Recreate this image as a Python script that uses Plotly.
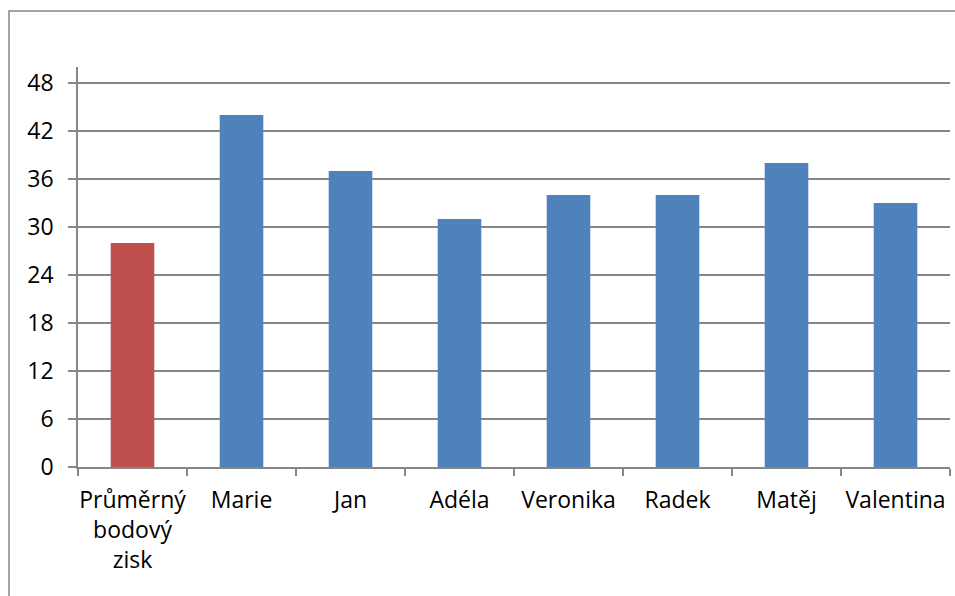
import plotly.graph_objects as go

# Average score vs. individual students
categories = ["Průměrný<br>bodový<br>zisk", "Marie", "Jan", "Adéla", "Veronika", "Radek", "Matěj", "Valentina"]
points = [28, 44, 37, 31, 34, 34, 38, 33]
bar_colors = ["#C0504D"] + ["#4F81BD"] * 7
y_ticks = [0, 6, 12, 18, 24, 30, 36, 42, 48]

FONT = "Open Sans"
GRAY = "#868686"

fig = go.Figure(
    go.Bar(
        x=categories,
        y=points,
        marker=dict(color=bar_colors, line=dict(width=0)),
        width=0.4,
    )
)

fig.update_layout(
    width=955,
    height=596,
    margin=dict(l=78, r=5, t=67, b=129),
    paper_bgcolor="white",
    plot_bgcolor="white",
    showlegend=False,
    font=dict(family=FONT, size=23, color="black"),
    shapes=[
        # outer chart frame
        dict(type="rect", xref="paper", yref="paper",
             x0=-0.0791, x1=1.02, y0=-0.4, y1=1.14,
             line=dict(color=GRAY, width=1.5), fillcolor="rgba(0,0,0,0)",
             layer="below"),
    ],
)

fig.update_xaxes(
    type="category",
    showgrid=False,
    showline=True,
    linecolor=GRAY,
    linewidth=1.5,
    ticks="outside",
    tickson="boundaries",
    ticklen=7,
    tickcolor=GRAY,
    tickwidth=1.5,
    tickangle=0,
    ticklabelstandoff=12,
)

fig.update_yaxes(
    range=[0, 50],
    tickvals=y_ticks,
    showgrid=True,
    gridcolor=GRAY,
    gridwidth=1.5,
    showline=True,
    linecolor=GRAY,
    linewidth=1.5,
    ticks="outside",
    ticklen=8,
    tickcolor=GRAY,
    tickwidth=1.5,
    zeroline=False,
    ticklabelstandoff=10,
)

fig.write_html("out.html")
